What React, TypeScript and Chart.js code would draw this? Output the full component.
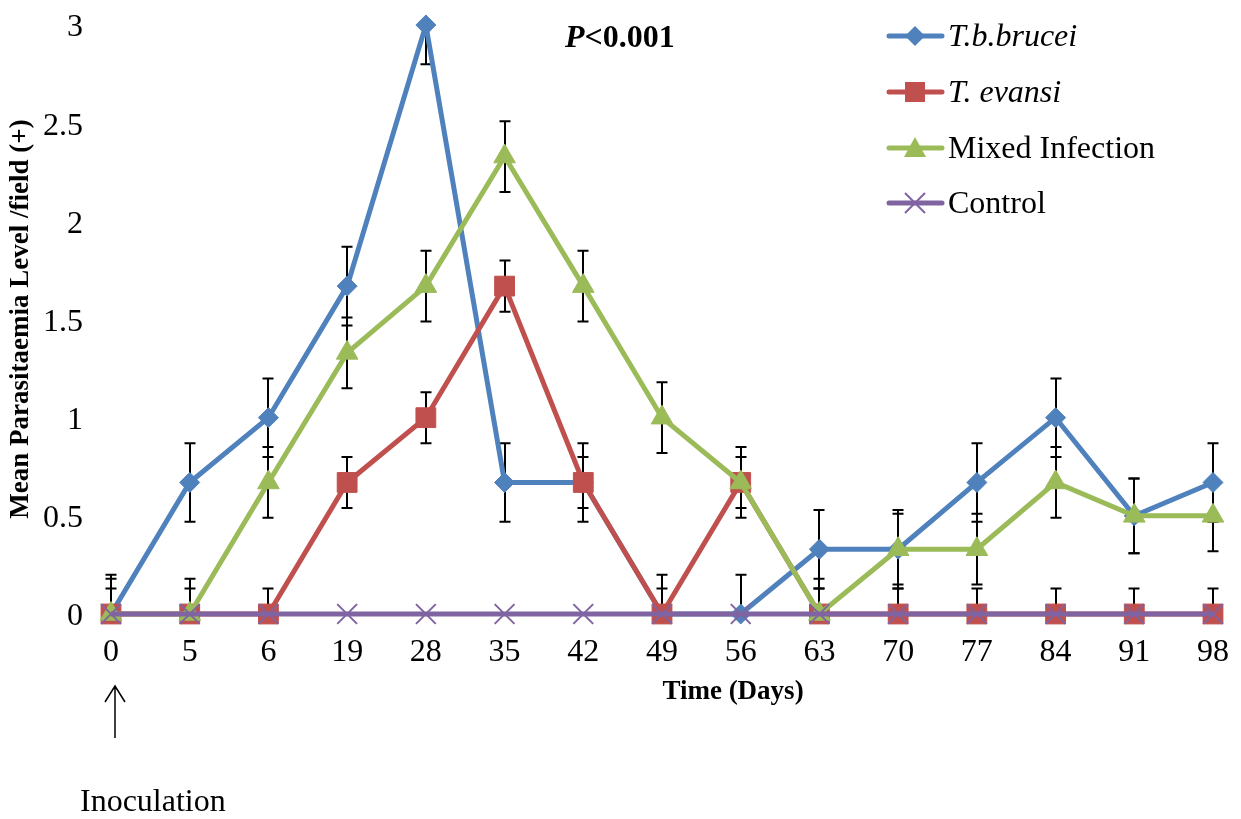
import React, { useEffect, useRef } from "react";
import { Chart, registerables } from "chart.js";

Chart.register(...registerables);

const days = ["0", "5", "6", "19", "28", "35", "42", "49", "56", "63", "70", "77", "84", "91", "98"];
const brucei = [0, 0.67, 1, 1.67, 3, 0.67, 0.67, 0, 0, 0.33, 0.33, 0.67, 1, 0.5, 0.67];
const evansi = [0, 0, 0, 0.67, 1, 1.67, 0.67, 0, 0.67, 0, 0, 0, 0, 0, 0];
const mixed = [0, 0, 0.67, 1.33, 1.67, 2.33, 1.67, 1, 0.67, 0, 0.33, 0.33, 0.67, 0.5, 0.5];
const control = [0, 0, 0, 0, 0, 0, 0, 0, 0, 0, 0, 0, 0, 0, 0];
const bruceiErr = [0.2, 0.2, 0.2, 0.2, 0.2, 0.2, 0.2, 0.2, 0.2, 0.2, 0.2, 0.2, 0.2, 0.19, 0.2];
const evansiErr = [0.13, 0.13, 0.13, 0.13, 0.13, 0.13, 0.13, 0.13, 0.13, 0.13, 0.13, 0.13, 0.13, 0.13, 0.13];
const mixedErr = [0.18, 0.18, 0.18, 0.18, 0.18, 0.18, 0.18, 0.18, 0.18, 0.18, 0.18, 0.18, 0.18, 0.19, 0.18];
const yTicks = [0, 0.5, 1, 1.5, 2, 2.5, 3];

const BLUE = "#4F81BD";
const RED = "#C0504D";
const GREEN = "#9BBB59";
const PURPLE = "#8064A2";
const FONT = "'Liberation Serif', 'Times New Roman', serif";

const legendItems = [
  { label: "T.b.brucei", color: BLUE, shape: "diamond", italic: true },
  { label: "T. evansi", color: RED, shape: "square", italic: true },
  { label: "Mixed Infection", color: GREEN, shape: "triangle", italic: false },
  { label: "Control", color: PURPLE, shape: "cross", italic: false },
];

function drawShape(ctx: CanvasRenderingContext2D, shape: string, x: number, y: number, color: string) {
  ctx.save();
  ctx.fillStyle = color;
  ctx.strokeStyle = color;
  ctx.beginPath();
  if (shape === "diamond") {
    ctx.moveTo(x, y - 10);
    ctx.lineTo(x + 10, y);
    ctx.lineTo(x, y + 10);
    ctx.lineTo(x - 10, y);
    ctx.closePath();
    ctx.fill();
  } else if (shape === "square") {
    ctx.rect(x - 10, y - 10, 20, 20);
    ctx.fill();
  } else if (shape === "triangle") {
    ctx.moveTo(x, y - 11);
    ctx.lineTo(x + 11, y + 9);
    ctx.lineTo(x - 11, y + 9);
    ctx.closePath();
    ctx.fill();
  } else {
    ctx.lineWidth = 2;
    ctx.moveTo(x - 10, y - 10);
    ctx.lineTo(x + 10, y + 10);
    ctx.moveTo(x + 10, y - 10);
    ctx.lineTo(x - 10, y + 10);
    ctx.stroke();
  }
  ctx.restore();
}

const errorBarPlugin = {
  id: "errorBars",
  beforeDatasetsDraw(chart: any) {
    const ctx = chart.ctx as CanvasRenderingContext2D;
    const area = chart.chartArea;
    const ys = chart.scales.y;
    ctx.save();
    ctx.beginPath();
    ctx.rect(area.left - 20, area.top, area.right - area.left + 40, area.bottom - area.top);
    ctx.clip();
    ctx.strokeStyle = "#000";
    ctx.lineWidth = 2;
    chart.data.datasets.forEach((ds: any, i: number) => {
      if (!ds.errors) return;
      const meta = chart.getDatasetMeta(i);
      meta.data.forEach((pt: any, j: number) => {
        const v = ds.data[j];
        const e = ds.errors[j];
        const x = Math.round(pt.x);
        const yTop = ys.getPixelForValue(v + e);
        const yBot = ys.getPixelForValue(v - e);
        ctx.beginPath();
        ctx.moveTo(x, yTop);
        ctx.lineTo(x, yBot);
        ctx.moveTo(x - 5.5, yTop);
        ctx.lineTo(x + 5.5, yTop);
        ctx.moveTo(x - 5.5, yBot);
        ctx.lineTo(x + 5.5, yBot);
        ctx.stroke();
      });
    });
    ctx.restore();
  },
};

const annotationPlugin = {
  id: "annotations",
  afterDraw(chart: any) {
    const ctx = chart.ctx as CanvasRenderingContext2D;
    ctx.save();
    ctx.fillStyle = "#000";
    // Y axis title
    ctx.save();
    ctx.translate(21, 319);
    ctx.rotate(-Math.PI / 2);
    ctx.font = `bold 27px ${FONT}`;
    ctx.textAlign = "center";
    ctx.textBaseline = "middle";
    ctx.fillText("Mean Parasitaemia Level /field (+)", 0, 0);
    ctx.restore();
    // X axis title
    ctx.font = `bold 27px ${FONT}`;
    ctx.textAlign = "center";
    ctx.textBaseline = "middle";
    ctx.fillText("Time (Days)", 733, 692);
    // P value
    ctx.textAlign = "left";
    ctx.textBaseline = "alphabetic";
    ctx.font = `italic bold 32px ${FONT}`;
    ctx.fillText("P", 565, 47);
    const pw = ctx.measureText("P").width;
    ctx.font = `bold 32px ${FONT}`;
    ctx.fillText("<0.001", 565 + pw, 47);
    // Legend
    legendItems.forEach((it, i) => {
      const y = [36, 92, 148, 203][i];
      ctx.save();
      ctx.strokeStyle = it.color;
      ctx.lineWidth = 5;
      ctx.lineCap = "round";
      ctx.beginPath();
      ctx.moveTo(889, y);
      ctx.lineTo(942, y);
      ctx.stroke();
      ctx.restore();
      drawShape(ctx, it.shape, 915, y, it.color);
      ctx.fillStyle = "#000";
      ctx.font = `${it.italic ? "italic " : ""}32px ${FONT}`;
      ctx.textAlign = "left";
      ctx.textBaseline = "middle";
      ctx.fillText(it.label, 948, y + 2);
    });
    // Inoculation arrow
    ctx.strokeStyle = "#000";
    ctx.lineWidth = 1.5;
    ctx.beginPath();
    ctx.moveTo(115, 686);
    ctx.lineTo(115, 738);
    ctx.moveTo(105, 702);
    ctx.lineTo(115, 686);
    ctx.lineTo(125, 702);
    ctx.stroke();
    ctx.font = `32px ${FONT}`;
    ctx.textAlign = "left";
    ctx.textBaseline = "middle";
    ctx.fillText("Inoculation", 80, 803);
    ctx.restore();
  },
};

export default function App() {
  const ref = useRef<HTMLCanvasElement | null>(null);
  useEffect(() => {
    if (!ref.current) return;
    const mk = (label: string, data: number[], color: string, style: string, radius: number, order: number, errors?: number[]) => ({
      label,
      data,
      errors,
      borderColor: color,
      backgroundColor: color,
      pointBackgroundColor: color,
      pointBorderColor: color,
      pointStyle: style,
      pointRadius: radius,
      pointBorderWidth: style === "crossRot" ? 2 : 1,
      borderWidth: 5,
      tension: 0,
      clip: false,
      order,
    });
    const chart = new Chart(ref.current, {
      type: "line",
      data: {
        labels: days,
        datasets: [
          mk("T.b.brucei", brucei, BLUE, "rectRot", 10, 4, bruceiErr),
          mk("T. evansi", evansi, RED, "rect", 14, 3, evansiErr),
          mk("Mixed Infection", mixed, GREEN, "triangle", 12.5, 2, mixedErr),
          mk("Control", control, PURPLE, "crossRot", 14, 1),
        ] as any,
      },
      options: {
        responsive: false,
        animation: false,
        layout: { autoPadding: false, padding: { top: 25, right: 28, left: 0, bottom: 0 } },
        plugins: { legend: { display: false }, tooltip: { enabled: false } },
        scales: {
          x: {
            type: "category",
            offset: false,
            grid: { display: false, drawTicks: false },
            border: { display: false },
            ticks: { color: "#000", font: { family: FONT, size: 32 }, padding: 19, autoSkip: false, maxRotation: 0 },
            afterFit: (s: any) => { s.height = 205; s.paddingLeft = 0; s.paddingRight = 0; },
          },
          y: {
            min: 0,
            max: 3,
            grid: { display: false, drawTicks: false },
            border: { display: false },
            afterBuildTicks: (s: any) => { s.ticks = yTicks.map((v) => ({ value: v })); },
            ticks: { color: "#000", font: { family: FONT, size: 32 }, padding: 28, labelOffset: 3, callback: (v: any) => String(v) },
            afterFit: (s: any) => { s.width = 111; s.paddingTop = 0; s.paddingBottom = 0; },
          },
        },
      } as any,
      plugins: [errorBarPlugin, annotationPlugin],
    });
    return () => chart.destroy();
  }, []);
  return (
    <div style={{ position: "absolute", left: 0, top: 0, width: 1241, height: 819, background: "#fff" }}>
      <canvas ref={ref} width={1241} height={819} />
    </div>
  );
}
